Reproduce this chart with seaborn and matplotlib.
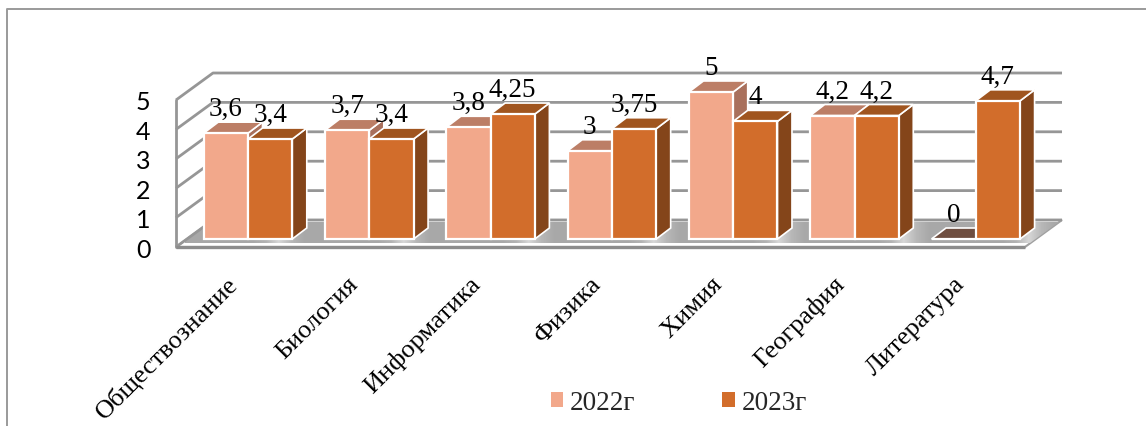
import matplotlib
matplotlib.use("Agg")
import numpy as np
import pandas as pd
import seaborn as sns
import matplotlib.pyplot as plt
from matplotlib.patches import Polygon

subjects = ["Обществознание", "Биология", "Информатика", "Физика", "Химия", "География", "Литература"]
years = ["2022г", "2023г"]
values_2022 = [3.6, 3.7, 3.8, 3, 5, 4.2, 0]
values_2023 = [3.4, 3.4, 4.25, 3.75, 4, 4.2, 4.7]
y_ticks = [0, 1, 2, 3, 4, 5]

LIGHT = "#F2A88B"
DARK = "#D26D2B"
faces = {
    LIGHT: ("#BC7E66", "#A9705C"),
    DARK: ("#A0551F", "#84451A"),
}
GRID = "#969696"
SERIF = "Liberation Serif"

# one x unit = one category, one y unit = one score; the axes fills the figure
W, H = 1146, 427
X_UNIT, Y_UNIT = 121.3, 29.4
X0, Y0 = 248, 240
px = 1 / X_UNIT
py = 1 / Y_UNIT

df = pd.DataFrame({
    "subject": subjects * 2,
    "year": [years[0]] * 7 + [years[1]] * 7,
    "score": values_2022 + values_2023,
})

sns.set_theme(style="white")
fig = plt.figure(figsize=(W / 100, H / 100), dpi=100)
ax = fig.add_axes([0, 0, 1, 1])
sns.barplot(data=df, x="subject", y="score", hue="year", palette=[LIGHT, DARK],
            width=0.73, gap=0, saturation=1, edgecolor="white", linewidth=1.6, ax=ax)
x_lim = (-X0 * px, (W - X0) * px)
y_lim = ((Y0 - H) * py, Y0 * py)
ax.axis("off")

# chart border: left and top only
ax.plot([x_lim[0] + 7 * px, x_lim[0] + 7 * px, x_lim[1]],
        [y_lim[0], y_lim[1] - 10 * py, y_lim[1] - 10 * py], color="#9A9A9A", lw=1.4, zorder=1)

# walls and floor of the 3d box
left_i = (176 - X0) * px
right_i = (1025 - X0) * px
back_dx, back_dy = 37 * px, 27 * py
base = -8 * py

# white floor with a grey rim, grey inner area with a light streak in every gap
ax.add_patch(Polygon([(left_i, base), (right_i, base), (right_i + back_dx, base + back_dy),
                      (left_i + back_dx, base + back_dy)], closed=True, fc="white", ec="#A0A0A0",
                     lw=1.5, zorder=2))
floor = Polygon([(left_i + 5 * px, -4 * py), (right_i + 5 * px, -4 * py),
                 (right_i + back_dx - 3 * px, 17 * py), (left_i + back_dx - 3 * px, 17 * py)],
                closed=True, fc="none", ec="none", zorder=2)
ax.add_patch(floor)
band = np.tile([0.66, 0.66, 0.66, 0.66, 0.66, 0.66, 0.70, 0.84, 0.72, 0.66], 7).reshape(1, -1)
im = ax.imshow(band, cmap="gray", vmin=0, vmax=1, aspect="auto", interpolation="bilinear",
               extent=(-0.5 - 2 * px, 6.5 + 23 * px, -4 * py, 17 * py), zorder=2.05)
im.set_clip_path(floor)
ax.set_xlim(*x_lim)
ax.set_ylim(*y_lim)

for v in y_ticks:
    y_f = base + v
    y_b = y_f + back_dy
    # left wall and back wall
    ax.plot([left_i, left_i + back_dx, right_i + back_dx], [y_f, y_b, y_b], color=GRID, lw=2,
            solid_capstyle="butt", zorder=2.2)
    ax.text(left_i - 33 * px, y_f - 2 * py, str(v), family="Lato", fontsize=18, color="black",
            ha="center", va="center", zorder=20)
ax.plot([left_i, left_i], [base, base + 5], color=GRID, lw=2, zorder=2.2)
ax.plot([left_i, right_i], [base, base], color="#8C8C8C", lw=2.4, solid_capstyle="butt", zorder=2.2)

# depth of every bar, drawn from the bar geometry
bar_dx, bar_dy = 14.5 * px, 11 * py
shades = {}
for cont, color in zip(ax.containers, [LIGHT, DARK]):
    for bar in cont.patches:
        shades[id(bar)] = faces[color]
bars = sorted([p for c in ax.containers for p in c.patches], key=lambda p: p.get_x())
z = 3
for bar in bars:
    x0, w, h = bar.get_x(), bar.get_width(), bar.get_height()
    top_col, side_col = shades[id(bar)]
    if h == 0:
        top_col = "#6F4E40"
    side = Polygon([(x0 + w, 0), (x0 + w + bar_dx, bar_dy), (x0 + w + bar_dx, h + bar_dy), (x0 + w, h)],
                   closed=True, fc=side_col, ec="white", lw=1.2, zorder=z)
    top = Polygon([(x0, h), (x0 + w, h), (x0 + w + bar_dx, h + bar_dy), (x0 + bar_dx, h + bar_dy)],
                  closed=True, fc=top_col, ec="white", lw=1.2, zorder=z)
    ax.add_patch(side)
    ax.add_patch(top)
    bar.set_zorder(z + 0.5)
    z += 1
    label = f"{h:g}".replace(".", ",")
    ax.text(x0 + w / 2, h + 18 * py, label, family=SERIF, fontsize=19.5, color="black",
            ha="center", va="baseline", zorder=30)

# rotated category labels
for i, name in enumerate(subjects):
    ax.text(i - 22 * px, -33 * py, name, family=SERIF, fontsize=19, color="black", rotation=45,
            ha="right", va="top", rotation_mode="anchor", zorder=30)

handles, labels = ax.get_legend_handles_labels()
if ax.get_legend() is not None:
    ax.get_legend().remove()
leg = ax.legend(handles, labels, ncol=2, frameon=False, loc="center",
                bbox_to_anchor=(679 / W, 1 - 404 / H), bbox_transform=ax.transAxes,
                handlelength=0.46, handleheight=0.46, handletextpad=0.25, columnspacing=3.2,
                prop={"family": SERIF, "size": 19.5})
for h in leg.legend_handles:
    h.set_edgecolor("none")
leg.set_zorder(30)

fig.savefig("out.png", dpi=100)
